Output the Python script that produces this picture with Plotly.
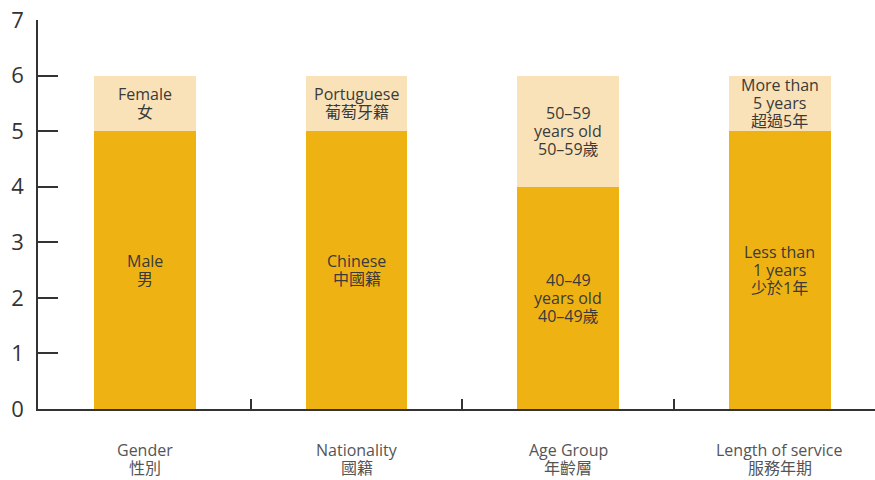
import plotly.graph_objects as go

categories_en = ["Gender", "Nationality", "Age Group", "Length of service"]
categories_zh = ["性別", "國籍", "年齡層", "服務年期"]

bottom_values = [5, 5, 4, 5]
top_values = [1, 1, 2, 1]
bottom_labels = [["Male", "男"], ["Chinese", "中國籍"], ["40–49", "years old", "40–49歲"], ["Less than", "1 years", "少於1年"]]
top_labels = [["Female", "女"], ["Portuguese", "葡萄牙籍"], ["50–59", "years old", "50–59歲"], ["More than", "5 years", "超過5年"]]

y_ticks = [0, 1, 2, 3, 4, 5, 6, 7]

FONT = "'Open Sans', 'Noto Sans CJK TC', sans-serif"
DARK = "#EFB213"
LIGHT = "#FAE2B8"
TXT = "#3a3a3a"

x = list(range(len(categories_en)))

fig = go.Figure()
fig.add_trace(go.Bar(x=x, y=bottom_values, marker=dict(color=DARK, line=dict(width=0)), width=0.48, hoverinfo="skip"))
fig.add_trace(go.Bar(x=x, y=top_values, marker=dict(color=LIGHT, line=dict(width=0)), width=0.48, hoverinfo="skip"))

annotations = []


def add_lines(xi, yv, lines, color, lh=18, shift0=0):
    n = len(lines)
    for k, line in enumerate(lines):
        annotations.append(dict(x=xi, y=yv, text=line, showarrow=False, xref="x", yref="y",
                                yshift=shift0 + ((n - 1) / 2 - k) * lh,
                                font=dict(family=FONT, size=16, color=color)))


for i in x:
    add_lines(i, bottom_values[i] / 2, bottom_labels[i], TXT)
    add_lines(i, bottom_values[i] + top_values[i] / 2, top_labels[i], TXT)
    add_lines(i, 0, [categories_en[i], categories_zh[i]], "#555555", lh=18, shift0=-50)

fig.update_layout(
    barmode="stack",
    width=875, height=480,
    margin=dict(l=38, r=0, t=20, b=71, autoexpand=False),
    paper_bgcolor="white", plot_bgcolor="white",
    showlegend=False,
    annotations=annotations,
    font=dict(family=FONT),
    xaxis=dict(range=[-0.505, 3.45], tickvals=[0.5, 1.5, 2.5], ticktext=["", "", ""], automargin=False,
               ticks="inside", ticklen=10, tickcolor="#333333", tickwidth=1.5,
               showline=True, linecolor="#333333", linewidth=1.5, showgrid=False, zeroline=False),
    yaxis=dict(range=[0, 7], tickvals=y_ticks, ticks="inside", ticklen=20, tickcolor="#333333", tickwidth=1.5,
               showline=True, linecolor="#333333", linewidth=1.5, showgrid=False, zeroline=False, automargin=False,
               tickfont=dict(family=FONT, size=22, color="#333333"), ticklabelstandoff=8),
)

fig.write_html("out.html", config={"displayModeBar": False},
               post_script="document.body.style.margin='0';document.body.style.overflow='hidden';")
